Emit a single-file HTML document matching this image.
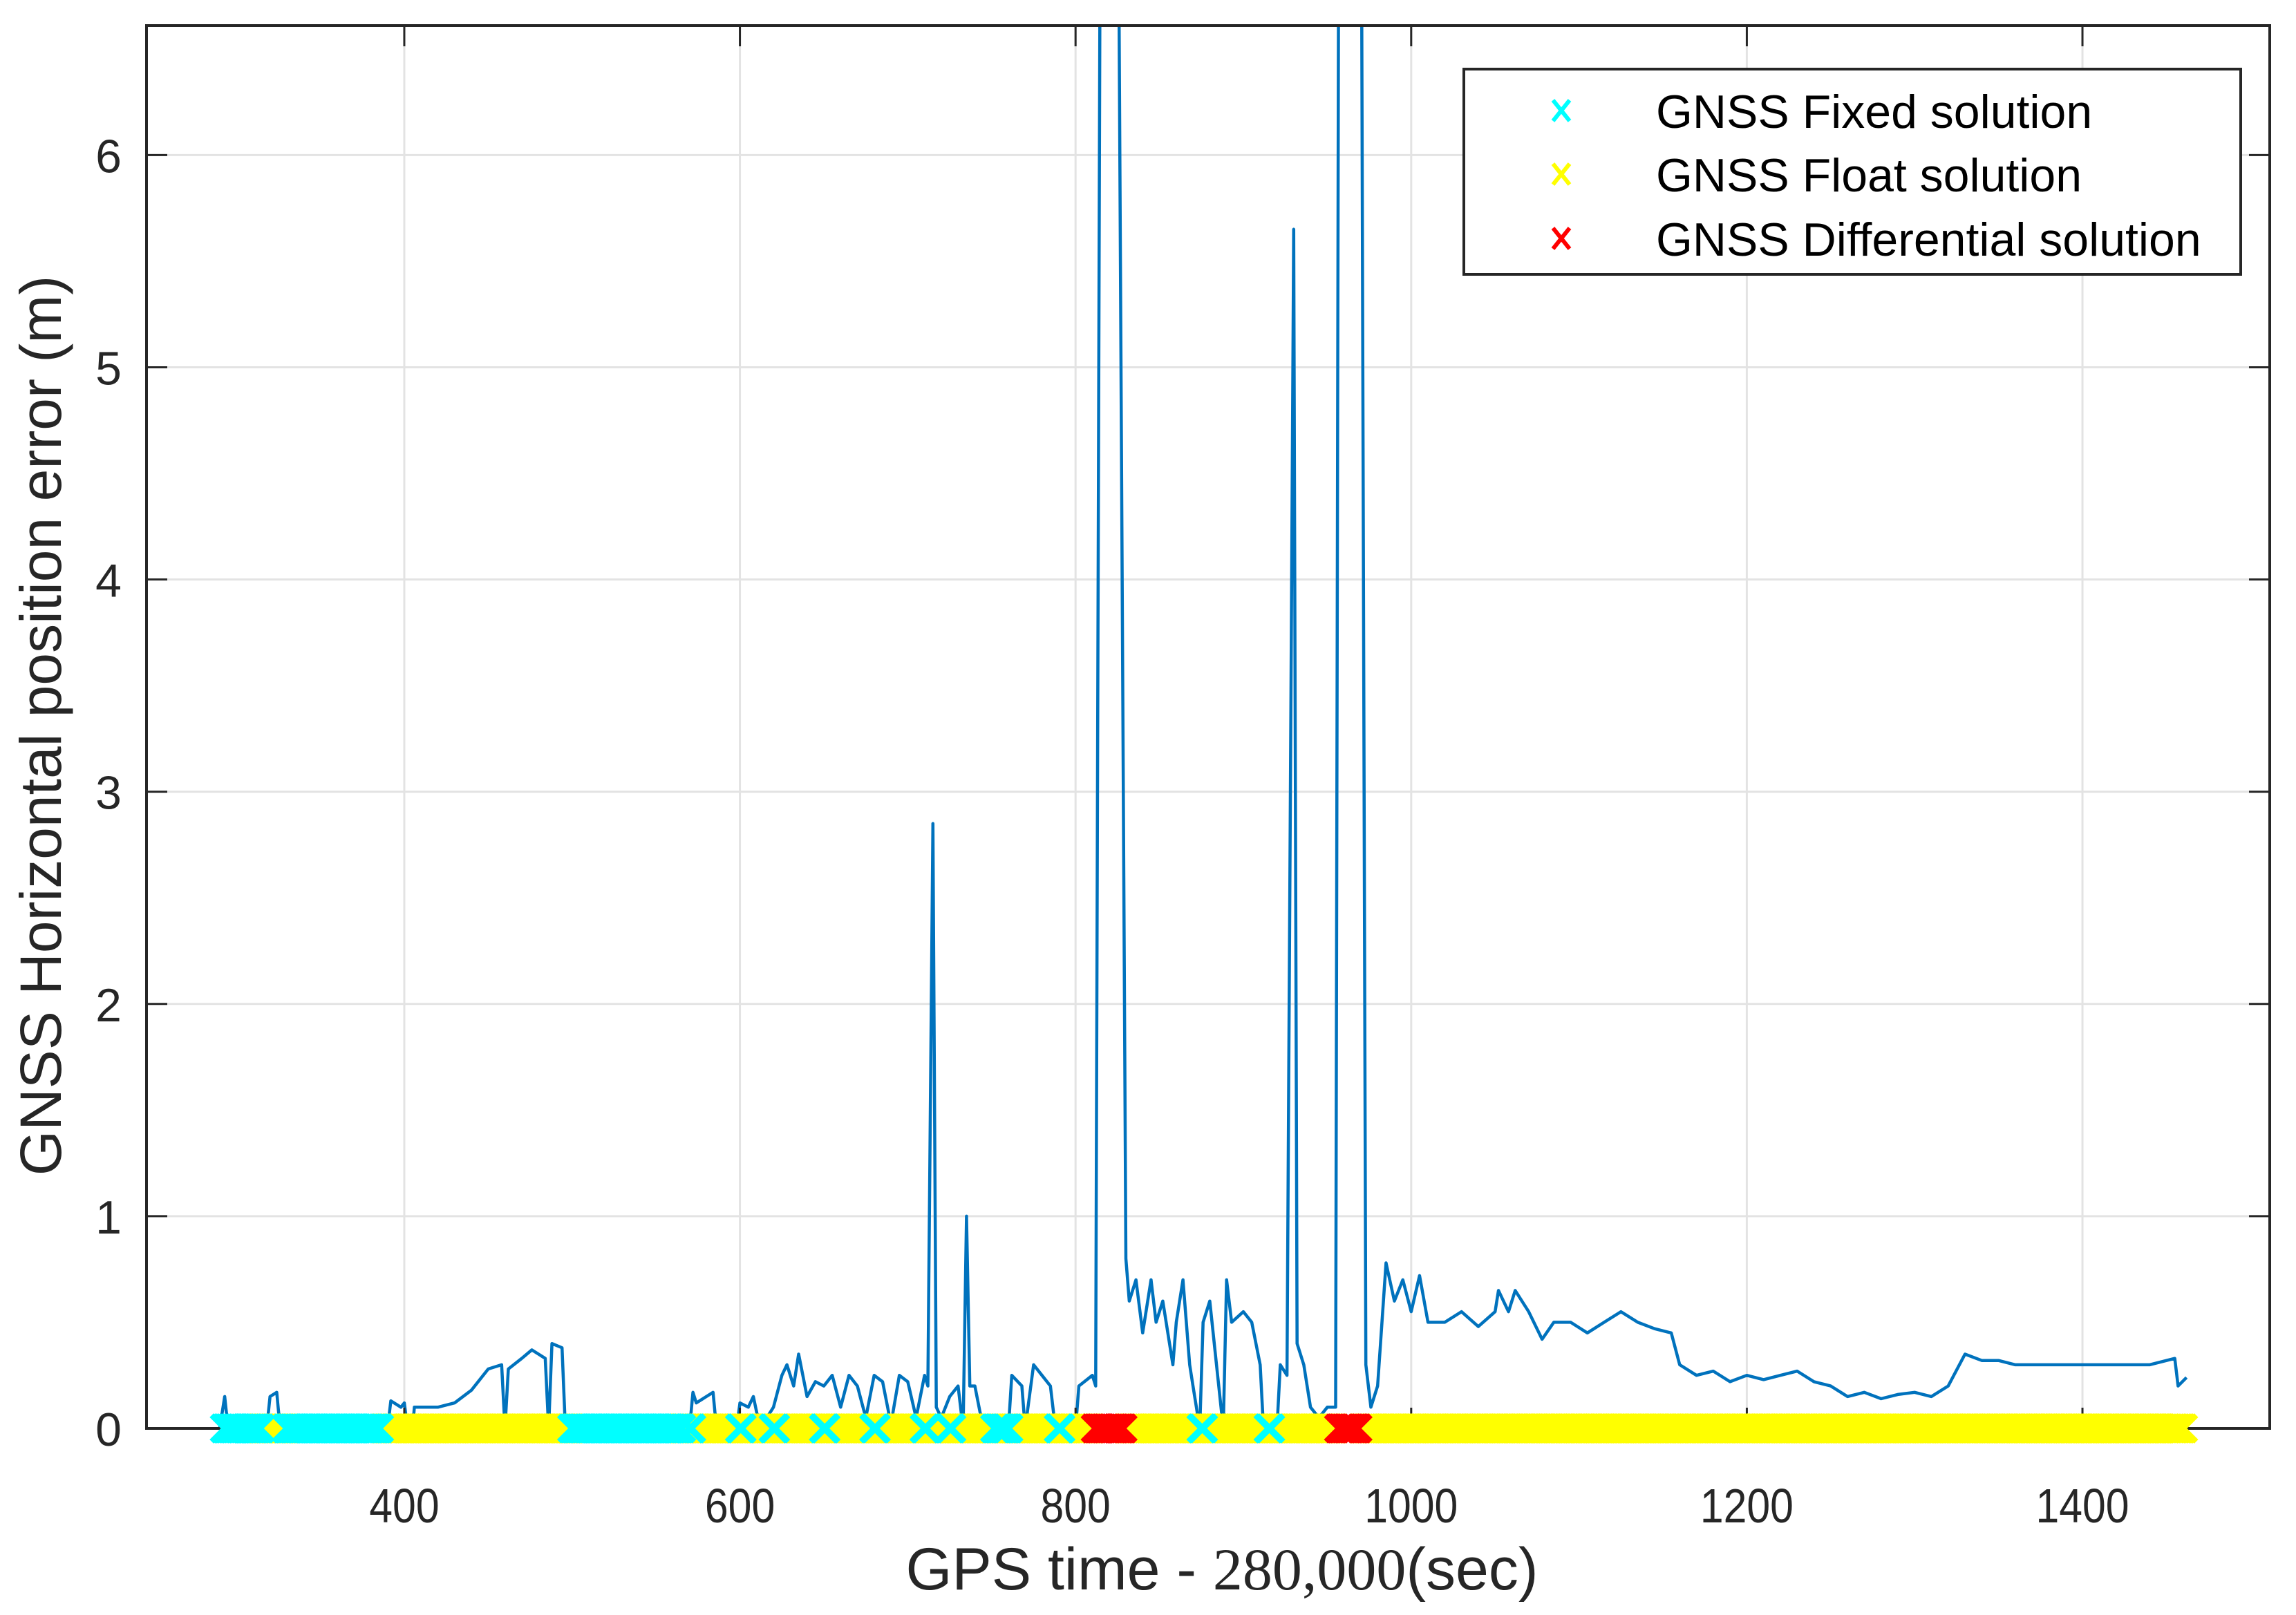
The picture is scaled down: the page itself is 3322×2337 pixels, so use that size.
<!DOCTYPE html>
<html><head><meta charset="utf-8">
<style>
html,body{margin:0;padding:0;background:#fff;}
svg{display:block;}
</style></head>
<body>
<svg id="chart" width="3322" height="2337" viewBox="0 0 3322 2337" xmlns="http://www.w3.org/2000/svg">
<rect x="0" y="0" width="3322" height="2337" fill="#fff"/>
<defs><clipPath id="plotclip"><rect x="212" y="37" width="3072" height="2100"/></clipPath></defs>
<g id="grid"></g>
<g id="line" clip-path="url(#plotclip)"></g>
<g id="axes"></g>
<g id="markers" clip-path="url(#plotclip)"></g>
<text x="1768" y="2300" text-anchor="middle" font-family="Liberation Sans, sans-serif" font-size="86" fill="#262626">GPS time - <tspan font-family="Liberation Serif, serif">280,000</tspan>(sec)</text>
<text transform="translate(88,1050) rotate(-90)" text-anchor="middle" font-family="Liberation Sans, sans-serif" font-size="84" fill="#262626">GNSS Horizontal position error (m)</text>
<g>
<rect x="2118" y="100" width="1124" height="297" fill="#fff" stroke="#262626" stroke-width="4"/>
<g>
<path d="M2247,145L2271,175M2247,175L2271,145" stroke="#00ffff" stroke-width="6" fill="none"/>
<text x="2396" y="162" dominant-baseline="central" font-family="Liberation Sans, sans-serif" font-size="68" fill="#000">GNSS Fixed solution</text></g>
<g>
<path d="M2247,237L2271,267M2247,267L2271,237" stroke="#ffff00" stroke-width="6" fill="none"/>
<text x="2396" y="254" dominant-baseline="central" font-family="Liberation Sans, sans-serif" font-size="68" fill="#000">GNSS Float solution</text></g>
<g>
<path d="M2247,330L2271,360M2247,360L2271,330" stroke="#ff0000" stroke-width="6" fill="none"/>
<text x="2396" y="347" dominant-baseline="central" font-family="Liberation Sans, sans-serif" font-size="68" fill="#000">GNSS Differential solution</text></g>
</g>
</svg>
<script>
const xTicks = [400, 600, 800, 1000, 1200, 1400];
const yTicks = [0, 1, 2, 3, 4, 5, 6];
const errTime = [290,293,295,318,320,324,326,390,392,398,400,402,405,406,420,430,440,450,458,460,462,470,476,480,484,486,488,494,496,505,507,509,570,572,574,580,584,586,598,600,605,608,612,620,625,628,632,635,640,645,650,655,660,665,670,675,680,685,690,695,700,705,710,712,715,717,720,725,730,733,735,737,740,745,760,762,768,770,775,780,785,788,800,802,810,812,815,818,825,830,832,836,840,845,848,852,858,860,864,868,870,874,876,880,884,888,890,893,900,905,910,912,920,922,926,930,932,936,940,945,950,955,957,970,973,976,980,985,990,995,1000,1005,1010,1020,1030,1040,1050,1052,1058,1062,1070,1078,1085,1095,1105,1115,1125,1135,1145,1155,1160,1170,1180,1190,1200,1210,1220,1230,1240,1250,1260,1270,1280,1290,1300,1310,1320,1330,1340,1350,1360,1380,1400,1420,1440,1455,1457,1462];
const errValue = [0,0.15,0,0,0.15,0.17,0,0,0.13,0.1,0.12,0,0,0.1,0.1,0.12,0.18,0.28,0.3,0,0.28,0.33,0.37,0.35,0.33,0,0.4,0.38,0,0,0.05,0,0,0.17,0.12,0.15,0.17,0,0,0.12,0.1,0.15,0,0.1,0.25,0.3,0.2,0.35,0.15,0.22,0.2,0.25,0.1,0.25,0.2,0.05,0.25,0.22,0.02,0.25,0.22,0.05,0.25,0.2,2.85,0.1,0.05,0.15,0.2,0,1.0,0.2,0.2,0,0,0.25,0.2,0,0.3,0.25,0.2,0,0,0.2,0.25,0.2,8,8,8,0.8,0.6,0.7,0.45,0.7,0.5,0.6,0.3,0.5,0.7,0.3,0.2,0,0.5,0.6,0.3,0,0.7,0.5,0.55,0.5,0.3,0,0,0.3,0.25,5.65,0.4,0.3,0.1,0.05,0.1,0.1,8,8,0.3,0.1,0.2,0.78,0.6,0.7,0.55,0.72,0.5,0.5,0.55,0.48,0.55,0.65,0.55,0.65,0.55,0.42,0.5,0.5,0.45,0.5,0.55,0.5,0.47,0.45,0.3,0.25,0.27,0.22,0.25,0.23,0.25,0.27,0.22,0.2,0.15,0.17,0.14,0.16,0.17,0.15,0.2,0.35,0.32,0.32,0.3,0.3,0.3,0.3,0.3,0.33,0.2,0.24];
const fixedStart = [293,330,500,570,600,620,650,680,710,725,752,790,875,915];
const fixedEnd   = [314,385,565,571,601,621,651,681,711,726,760,791,876,916];
const floatStart = [315,388,566,572,602,622,652,682,712,727,761,792,831,877,917,971];
const floatEnd   = [329,499,569,599,619,649,679,709,724,751,789,809,874,914,954,1460];
const diffStart  = [812,957];
const diffEnd    = [828,968];

const NS='http://www.w3.org/2000/svg';
const X0=212,X1=3284,Y0=37,Y1=2067;
const xMin=246.4,xMax=1511.6,yMin=0,yMax=6.61;
function sx(t){return X0+(t-xMin)/(xMax-xMin)*(X1-X0);}
function sy(v){return Y1-(v-yMin)/(yMax-yMin)*(Y1-Y0);}
function mk(tag,attrs,parent){const e=document.createElementNS(NS,tag);for(const k in attrs)e.setAttribute(k,attrs[k]);parent.appendChild(e);return e;}

const grid=document.getElementById('grid'),axes=document.getElementById('axes');
xTicks.forEach(t=>{
  const g=mk('line',{x1:sx(t),x2:sx(t),y1:Y0,y2:Y1,stroke:'#e3e3e3','stroke-width':3},grid);
  
  
  mk('line',{x1:sx(t),x2:sx(t),y1:Y1,y2:Y1-30,stroke:'#262626','stroke-width':3},axes);
  mk('line',{x1:sx(t),x2:sx(t),y1:Y0,y2:Y0+30,stroke:'#262626','stroke-width':3},axes);
  const tx=mk('text',{x:sx(t),y:2203,'text-anchor':'middle','font-family':'Liberation Sans, sans-serif','font-size':66,fill:'#262626',transform:`translate(${sx(t)},2203) scale(0.92,1.05) translate(${-sx(t)},-2203)`},axes);
  tx.textContent=t;
  
  
});
yTicks.forEach(v=>{
  const g=mk('line',{x1:X0,x2:X1,y1:sy(v),y2:sy(v),stroke:'#e3e3e3','stroke-width':3},grid);
  
  
  mk('line',{x1:X0,x2:X0+30,y1:sy(v),y2:sy(v),stroke:'#262626','stroke-width':3},axes);
  mk('line',{x1:X1,x2:X1-30,y1:sy(v),y2:sy(v),stroke:'#262626','stroke-width':3},axes);
  const tx=mk('text',{x:176,y:sy(v)+25,'text-anchor':'end','font-family':'Liberation Sans, sans-serif','font-size':68,fill:'#262626'},axes);
  tx.textContent=v;
  
  
});
const box=mk('rect',{x:X0,y:Y0,width:X1-X0,height:Y1-Y0,fill:'none',stroke:'#262626','stroke-width':4},axes);



const lg=document.getElementById('line');
let d='';
for(let i=0;i<errTime.length;i++){d+=(i?'L':'M')+sx(errTime[i]).toFixed(1)+','+sy(errValue[i]).toFixed(1);}
const pl=mk('path',{d:d,stroke:'#0072bd','stroke-width':4.5,fill:'none','stroke-linejoin':'round'},lg);



const mg=document.getElementById('markers');
function drawRanges(starts,ends,color,name,r){
  for(let i=0;i<starts.length;i++){
    for(let t=starts[i];t<=ends[i];t++){
      const cx=sx(t),cy=sy(0);
      const p=mk('path',{d:`M${cx-r},${cy-r}L${cx+r},${cy+r}M${cx-r},${cy+r}L${cx+r},${cy-r}`,stroke:color,'stroke-width':8,fill:'none'},mg);
      
      
    }
  }
}
drawRanges(floatStart,floatEnd,'#ffff00','float-marker',19);
drawRanges(fixedStart,fixedEnd,'#00ffff','fixed-marker',19);
drawRanges(diffStart,diffEnd,'#ff0000','differential-marker',19);
</script>
</body></html>
